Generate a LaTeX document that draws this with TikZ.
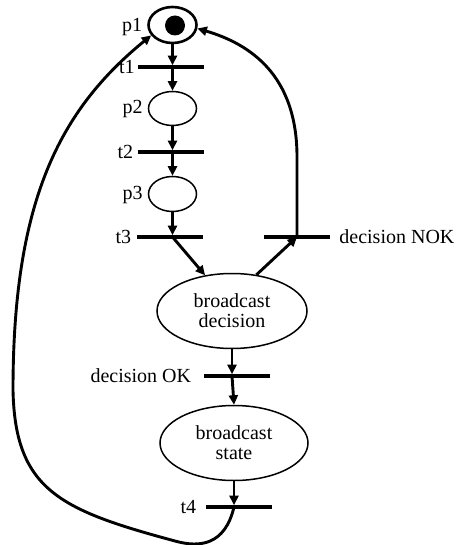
\documentclass[tikz,border=0pt]{standalone}
\usepackage{fontspec}
\setmainfont{Liberation Serif}
\usetikzlibrary{shapes.geometric,arrows.meta}
\begin{document}
\begin{tikzpicture}[x=1pt,y=-1pt,
  place/.style={ellipse,draw=black,line width=1.5pt,inner sep=0pt},
  bar/.style={rectangle,fill=black,draw=none,inner sep=0pt,minimum height=3.2pt,minimum width=66pt},
  lab/.style={inner sep=0pt,font=\fontsize{20}{20}\selectfont},
  txt/.style={align=center,font=\fontsize{20}{20}\selectfont},
  token/.style={circle,fill=black,draw=none,inner sep=0pt,minimum size=20pt},
  arr/.style={line width=2.9pt,-{Triangle[length=9.5pt,width=9pt]}}]
\useasboundingbox (0,0) rectangle (456,545);
% places
\node[place,line width=2.6pt,minimum width=48pt,minimum height=36pt] (p1) at (172.5,25) {};
\node[token] (tok) at (175,25.5) {};
\node[place,minimum width=48pt,minimum height=34pt] (p2) at (172.5,108.5) {};
\node[place,minimum width=48pt,minimum height=35pt] (p3) at (172.5,194) {};
\node[place,txt,minimum width=150pt,minimum height=75pt] (bd) at (232,311) {broadcast\\decision};
\node[place,txt,minimum width=148pt,minimum height=75pt] (bs) at (234,443) {broadcast\\state};
% transitions
\node[bar] (t1) at (171,67) {};
\node[bar] (t2) at (170.5,152) {};
\node[bar] (t3) at (169.5,237) {};
\node[bar] (nok) at (297,237) {};
\node[bar] (ok) at (236.5,376) {};
\node[bar] (t4) at (238.5,507) {};
% labels
\node[lab,anchor=east] (p1l) at ([xshift=-5pt,yshift=-2pt]p1.west) {p1};
\node[lab,anchor=east] (p2l) at ([xshift=-5pt,yshift=-1pt]p2.west) {p2};
\node[lab,anchor=east] (p3l) at ([xshift=-5pt,yshift=-1pt]p3.west) {p3};
\node[lab,anchor=east] (t1l) at ([xshift=-3pt]t1.west) {t1};
\node[lab,anchor=east] (t2l) at ([xshift=-4pt]t2.west) {t2};
\node[lab,anchor=east] (t3l) at ([xshift=-5pt]t3.west) {t3};
\node[lab,anchor=west] (nokl) at ([xshift=9pt]nok.east) {decision NOK};
\node[lab,anchor=east] (okl) at ([xshift=-12pt]ok.west) {decision OK};
\node[lab,anchor=east] (t4l) at ([xshift=-9pt]t4.west) {t4};
% arcs
\draw[arr] (p1.south) -- (p1.south |- t1.north);
\draw[arr] (p1.south |- t1.center) -- (p2.north);
\draw[arr] (p2.south) -- (p2.south |- t2.north);
\draw[arr] (p2.south |- t2.center) -- (p3.north);
\draw[arr] (p3.south) -- (p3.south |- t3.north);
\draw[arr] (p3.south |- t3.center) -- (bd.127);
\draw[arr] (bd.56) -- (nok.center);
\draw[arr] (nok.center) -- (297,157) .. controls (297,75) and (250,44) .. (p1.-8);
\draw[arr] (bd.south) -- (bd.south |- ok.north);
\draw[arr] (bd.south |- ok.center) -- (bs.north);
\draw[arr] (bs.south) -- (bs.south |- t4.north);
\draw[arr] (bs.south |- t4.center) .. controls (225,545) and (200,548) .. (175,541)
  .. controls (60,510) and (15,490) .. (13,390)
  .. controls (13,200) and (60,110) .. (p1.206);
\end{tikzpicture}
\end{document}
